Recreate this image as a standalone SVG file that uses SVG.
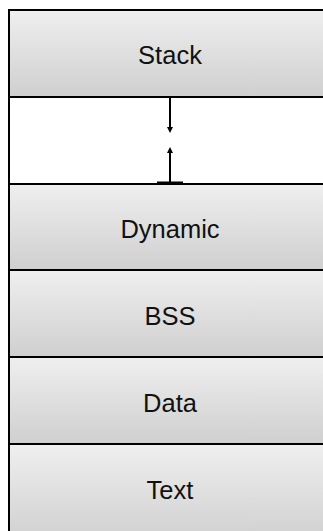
<svg xmlns="http://www.w3.org/2000/svg" width="323" height="531" viewBox="0 0 323 531">
<defs>
<linearGradient id="g" x1="0" y1="0" x2="0" y2="1">
<stop offset="0" stop-color="#efefef"/>
<stop offset="1" stop-color="#cfcfcf"/>
</linearGradient>
<marker id="ah" viewBox="0 0 6 6" refX="3" refY="3" markerWidth="6" markerHeight="6" markerUnits="userSpaceOnUse" orient="auto">
<path d="M0,0 L6,3 L0,6 z" fill="#000"/>
</marker>
</defs>
<style>
.box{fill:url(#g);stroke:#000;stroke-width:2}
.lbl{font-family:"Liberation Sans",Arial,sans-serif;font-size:25.5px;fill:#111;text-anchor:middle}
.c{stroke:#000;stroke-width:2;fill:none}
</style>
<rect x="0" y="0" width="323" height="531" fill="#fff"/>
<g id="stack"><rect class="box" x="9" y="10" width="322" height="87"/><text class="lbl" x="170" y="64">Stack</text></g>
<g id="free"><rect x="9" y="97" width="322" height="87" fill="#fff" stroke="#000" stroke-width="2"/></g>
<g id="dynamic"><rect class="box" x="9" y="184" width="322" height="86"/><text class="lbl" x="170" y="238">Dynamic</text></g>
<g id="bss"><rect class="box" x="9" y="270" width="322" height="87"/><text class="lbl" x="170" y="325">BSS</text></g>
<g id="data"><rect class="box" x="9" y="357" width="322" height="87"/><text class="lbl" x="170" y="412">Data</text></g>
<g id="text"><rect class="box" x="9" y="444" width="322" height="100"/><text class="lbl" x="170" y="499">Text</text></g>
<g id="connectors">
<line class="c" x1="170" y1="97" x2="170" y2="130" marker-end="url(#ah)"/>
<line class="c" x1="170" y1="183" x2="170" y2="150" marker-end="url(#ah)"/>
<line x1="157" y1="183" x2="183" y2="183" stroke="#000" stroke-width="3"/>
</g>
</svg>
